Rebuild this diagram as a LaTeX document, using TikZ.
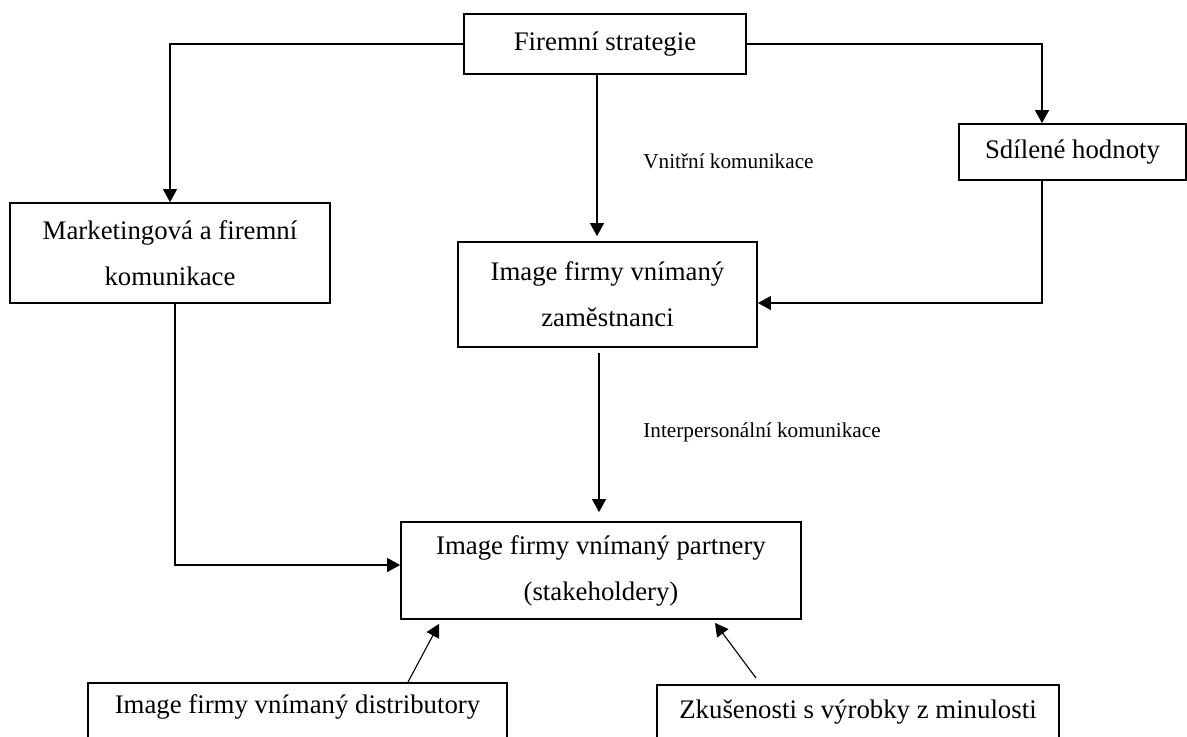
\documentclass[tikz,border=0pt]{standalone}
\usepackage{fontspec}
\setmainfont{Liberation Serif}
\usetikzlibrary{arrows.meta}
\begin{document}
\begin{tikzpicture}[x=0.5pt,y=-0.5pt,
        box/.style={draw,line width=0.9pt,align=center,inner sep=3pt,
            font=\fontsize{13.4}{23}\selectfont},
        arr/.style={-{Triangle[length=6.5pt,width=7pt]},line width=0.55pt},
        lbl/.style={anchor=base west,inner sep=0pt,font=\fontsize{10.6}{12}\selectfont}]
    \useasboundingbox (0,0) rectangle (1187,736);
    \node [box,minimum width=141pt,minimum height=30pt] (strat) at (605,44) {Firemní strategie};
    \node [box,minimum width=113.5pt,minimum height=28pt] (sdil) at (1072.5,152) {Sdílené hodnoty};
    \node [box,minimum width=160pt,minimum height=50pt] (mark) at (170,253) {Marketingová a firemní\\komunikace};
    \node [box,minimum width=149.5pt,minimum height=52.5pt] (zam) at (607.5,294.5) {Image firmy vnímaný\\zaměstnanci};
    \node [box,minimum width=200pt,minimum height=48.5pt] (part) at (601,570.5) {Image firmy vnímaný partnery\\(stakeholdery)};
    \node [box,anchor=north,minimum width=209.5pt,text height=12.5pt,text depth=30pt] (dist) at (297.5,682) {Image firmy vnímaný distributory};
    \node [box,anchor=north,minimum width=201pt,text height=14pt,text depth=30pt] (zkus) at (858,684) {Zkušenosti s výrobky z minulosti};
    % popisky
    \node [lbl] (vnitrni) at (643,168) {Vnitřní komunikace};
    \node [lbl] (interp) at (643,437) {Interpersonální komunikace};
    % spojnice
    \draw [arr] (strat.west) -| (mark.north);
    \draw [arr] (strat.east) -| ([xshift=-15.25pt]sdil.north);
    \draw [arr,shorten >=2.5pt] ([xshift=-4pt]strat.south) -- ([xshift=-4pt]strat.south |- zam.north);
    \draw [arr] ([xshift=-15.25pt]sdil.south) |- ([yshift=-4.25pt]zam.east);
    \draw [arr,shorten <=2.5pt,shorten >=4.5pt] ([xshift=-4.25pt]zam.south) -- ([xshift=-4.25pt]zam.south |- part.north);
    \draw [arr] ([xshift=2.5pt]mark.south) |- ([yshift=2.75pt]part.west);
    \draw [arr] ([xshift=55.25pt]dist.north) -- ([xshift=-81pt,yshift=-2pt]part.south);
    \draw [arr] ([xshift=-51pt,yshift=3pt]zkus.north) -- ([xshift=57pt,yshift=-1.5pt]part.south);
\end{tikzpicture}
\end{document}
